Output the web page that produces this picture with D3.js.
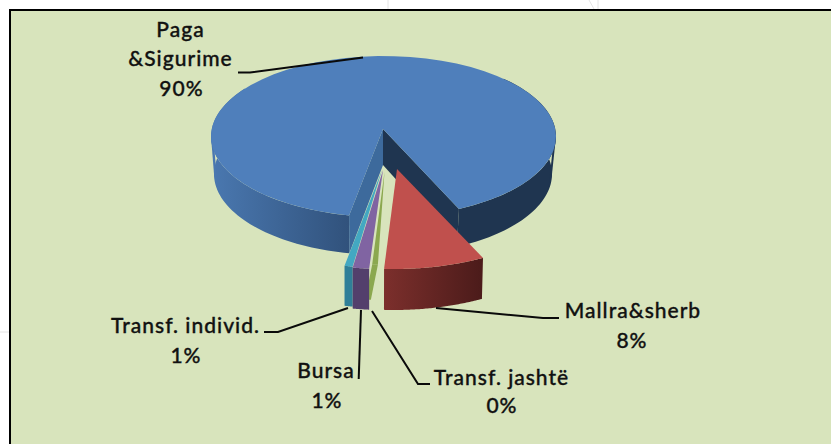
<!DOCTYPE html>
<html><head><meta charset="utf-8">
<style>html,body{margin:0;padding:0;background:#fff}svg{display:block}
text{font-family:Lato,"Open Sans",sans-serif;font-weight:500;font-size:21px;letter-spacing:1px;fill:#111;stroke:#111;stroke-width:.35px}</style>
<script src="https://cdn.jsdelivr.net/npm/d3@7/dist/d3.min.js"></script></head><body>
<svg id="c" width="831" height="444"></svg>
<script>
// data
const categories = ["Paga &Sigurime","Mallra&sherb","Transf. jashtë","Bursa","Transf. individ."];
const values = [89.6,8,0.45,1.3,0.65];
const percentLabels = ["90%","8%","0%","1%","1%"];

// layout and style, kept apart from the data
const labelLines = [
  [["Paga",180.5,37],["&Sigurime",180.5,66],["90%",181.5,96]],
  [["Mallra&sherb",633,318],["8%",632,348]],
  [["Transf. jashtë",501.5,385],["0%",502,413]],
  [["Bursa",326,378],["1%",327,408]],
  [["Transf. individ.",185.5,333],["1%",186,363]]
];
const leaders = [
  [[238,72.5],[250,72.5],[363,57.5]],
  [[436,308],[543,318],[559,318]],
  [[430,384],[418,384],[372,311]],
  [[358.7,379],[361,310]],
  [[264,332],[278,332],[348,308]]
];
const geom = [
  {top:{cx:383.5,cy:136.5,rx:172.5,ry:80.5},bot:{cx:383,cy:174,rx:169,ry:81},apex:[383,129],botApex:[383,165]},
  {top:{cx:394.2,cy:159,rx:203,ry:110},bot:{cx:394,cy:200,rx:201,ry:110},apex:[397,169]},
  {top:{cx:388,cy:155,rx:203,ry:110},bot:{cx:381,cy:190,rx:203,ry:110},apex:[384.5,172]},
  {top:{cx:385,cy:159,rx:203,ry:110},bot:{cx:385,cy:200,rx:203,ry:110},apex:[383,170]},
  {top:{cx:385,cy:158,rx:203,ry:110},bot:{cx:385,cy:198,rx:203,ry:110},apex:[382,170]}
];
const faceColors = ["#4f7fbb","#c0504d","#8ba84f","#8064a2","#43a8c2"];
const wallColors = [null,"url(#gRed)","#8ba84f","#533f6c","#2f7f98"];
const startDeg = 191.5;

const svg = d3.select("#c");
const defs = svg.append("defs");
function grad(id,x1,x2,stops){
  const g = defs.append("linearGradient").attr("id",id).attr("gradientUnits","userSpaceOnUse")
    .attr("x1",x1).attr("x2",x2).attr("y1",0).attr("y2",0);
  stops.forEach(([o,c])=>g.append("stop").attr("offset",o).attr("stop-color",c));
}
grad("gRed",384,483,[[0,"#7c2f2c"],[1,"#4b1b1a"]]);
grad("gBlue",211,349,[[0,"#4a78b0"],[1,"#31527c"]]);

// faint page marks outside the panel
svg.append("path").attr("d","M388,0V9M589,0L594,9M598,0V9M0,332H10")
  .attr("fill","none").attr("stroke","#e4e4e4").attr("stroke-width",1);

svg.append("rect").attr("x",10).attr("y",10).attr("width",821).attr("height",434)
  .attr("fill","#d8e4bc");
svg.append("path").attr("d","M10,444V10H831").attr("fill","none").attr("stroke","#000").attr("stroke-width",2);

const rad = Math.PI/180;
const arcs = d3.pie().sort(null).value(d=>d)
  .startAngle(startDeg*rad).endAngle((startDeg+360)*rad)(values);

const pt = (e,a)=>[e.cx+e.rx*Math.sin(a), e.cy-e.ry*Math.cos(a)];
const samples = (e,a0,a1)=>d3.range(0,61).map(i=>pt(e,a0+(a1-a0)*i/60));
const line = d3.line();
const wall = (g,a0,a1)=>line(samples(g.top,a0,a1).concat(samples(g.bot,a1,a0)))+"Z";
const face = (g,a0,a1)=>line([g.apex].concat(samples(g.top,a0,a1)))+"Z";

const pie = svg.append("g");
const blue = arcs[0], gb = geom[0];
// outer walls of the large slice: lit on the left, shaded on the right
pie.append("path").attr("d",wall(gb,blue.startAngle,blue.startAngle+115*rad)).attr("fill","url(#gBlue)");
pie.append("path").attr("d",wall(gb,blue.endAngle-110*rad,blue.endAngle)).attr("fill","#1f3550");
// silhouette edges joining the two rims at the widest points
const side = (deg,fill)=>pie.append("path")
  .attr("d",line([pt(gb.top,deg*rad),pt(gb.bot,deg*rad),pt(gb.bot,(deg+(deg>180?-12:12))*rad),pt(gb.top,(deg+(deg>180?-12:12))*rad)])+"Z").attr("fill",fill);
side(270,"#4a78b0");
side(90,"#1f3550");
// cut walls
const p0 = pt(gb.top,blue.startAngle), p0b = pt(gb.bot,blue.startAngle);
const p1 = pt(gb.top,blue.endAngle), p1b = pt(gb.bot,blue.endAngle);
pie.append("path").attr("d",line([gb.apex,p0,p0b,gb.botApex])+"Z").attr("fill","#3d6a9c");
pie.append("path").attr("d",line([gb.apex,p1,p1b,gb.botApex])+"Z").attr("fill","#1f3550");
pie.append("path").attr("d",face(gb,blue.startAngle,blue.endAngle)).attr("fill",faceColors[0]);

// exploded slices
[2,4,3,1].forEach(i=>{
  const d = arcs[i], g = geom[i];
  pie.append("path").attr("d",wall(g,d.startAngle,d.endAngle)).attr("fill",wallColors[i]);
  pie.append("path").attr("d",face(g,d.startAngle,d.endAngle)).attr("fill",faceColors[i]);
});

// leader lines
svg.append("g").selectAll("path").data(leaders).join("path")
  .attr("d",d=>line(d)).attr("fill","none").attr("stroke","#0a0a0a").attr("stroke-width",2);

// labels built from categories and percentages
const labels = svg.append("g");
labelLines.forEach((lines,i)=>{
  const txt = i===0 ? categories[0].split(" ").concat(percentLabels[0]) : [categories[i],percentLabels[i]];
  lines.forEach((l,j)=>labels.append("text").attr("x",l[1]).attr("y",l[2]).attr("text-anchor","middle").text(txt[j]));
});
</script></body></html>
